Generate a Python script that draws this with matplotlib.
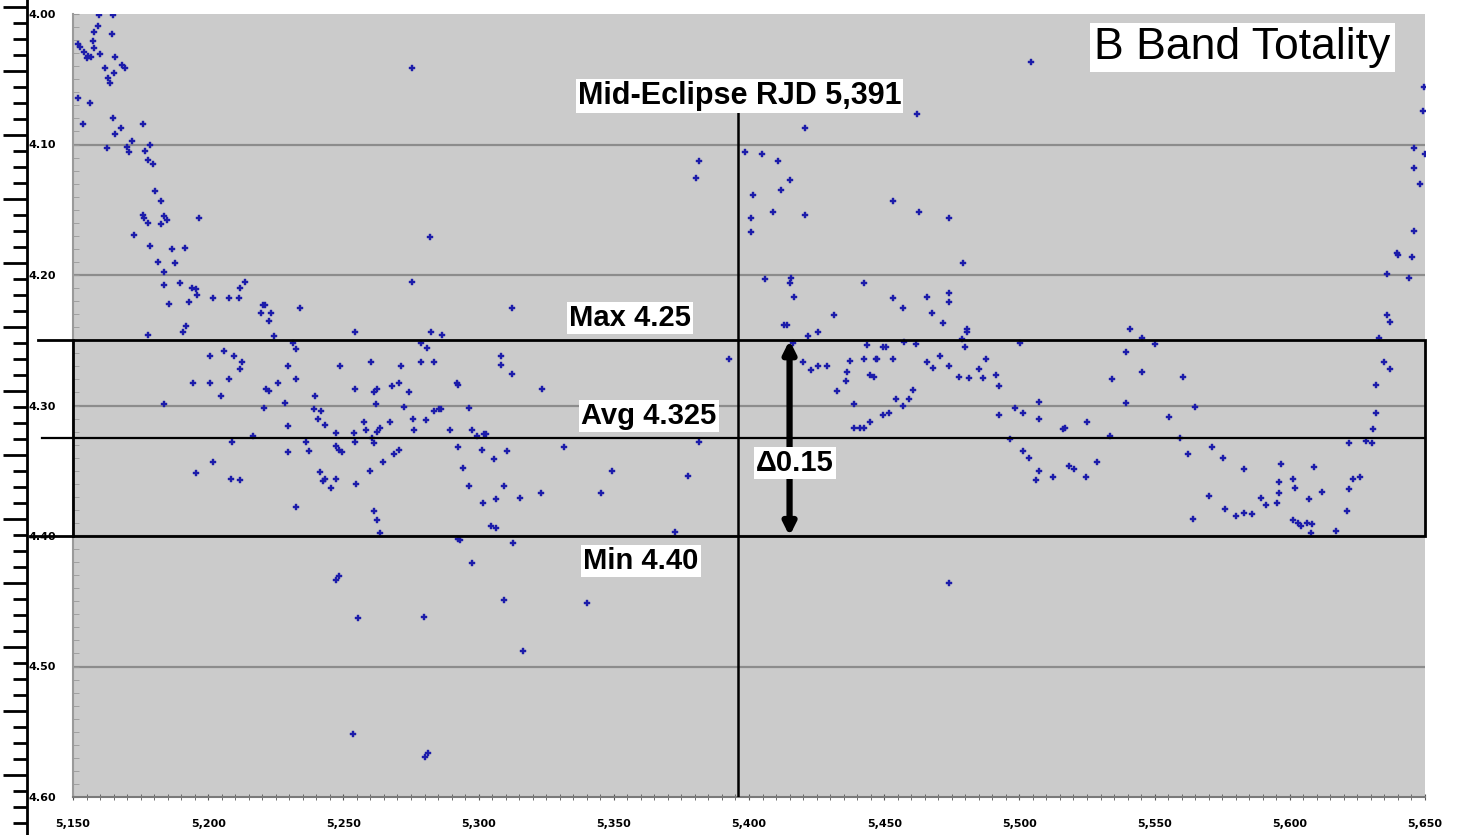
import numpy as np
import matplotlib
matplotlib.use("Agg")
import matplotlib.pyplot as plt
from matplotlib.patches import Rectangle
from matplotlib.ticker import MultipleLocator, FuncFormatter

# B band magnitudes (RJD - 2,450,000)
jd_early = [5159.6, 5164.8, 5159.2, 5157.8, 5164.4, 5151.8, 5152.6, 5157.4, 5157.8, 5154.1,
            5155.5, 5155.2, 5156.7, 5160.0, 5165.5, 5161.8, 5168.1, 5169.2, 5162.9, 5165.2,
            5163.7, 5151.8, 5156.3, 5153.7, 5164.8, 5167.7, 5165.5, 5175.9, 5171.8, 5162.6,
            5170.0, 5170.7, 5176.6, 5178.5, 5177.7, 5179.6, 5180.3, 5182.5, 5175.9, 5176.2,
            5177.7, 5183.6, 5184.7, 5182.5, 5196.6, 5172.5, 5178.5, 5186.6, 5191.4, 5181.4,
            5187.7, 5183.6, 5183.6, 5189.5, 5194.0, 5195.5, 5195.8, 5185.5, 5192.9, 5201.7,
            5207.7, 5211.4, 5211.7, 5213.6, 5220.2, 5221.0, 5219.5, 5223.2, 5222.4, 5233.9,
            5224.3, 5191.8, 5190.7, 5177.7, 5254.2, 5275.3, 5281.9, 5275.3, 5282.3, 5286.4,
            5231.3, 5232.4, 5200.6, 5205.8, 5209.5, 5212.5, 5211.7, 5229.5, 5194.4, 5200.6,
            5207.7, 5204.7, 5221.3, 5222.4, 5225.8, 5232.4, 5183.6, 5220.6, 5228.4, 5239.4,
            5239.1, 5241.7, 5240.6, 5243.1, 5247.2, 5248.7, 5254.2, 5260.1, 5261.3, 5262.4,
            5262.0, 5267.9, 5270.5, 5271.2, 5274.2, 5272.3, 5278.6, 5278.6, 5280.8, 5283.4,
            5291.9, 5283.4, 5285.3, 5275.7, 5276.0, 5280.5, 5289.3, 5229.5, 5216.5, 5257.6,
            5258.3, 5253.9, 5254.2, 5260.5, 5261.3, 5262.4, 5263.5, 5267.2, 5292.3, 5208.8,
            5236.1, 5237.2, 5229.5, 5247.2, 5248.3, 5249.4, 5201.7, 5195.5, 5208.4, 5211.7,
            5241.3, 5243.1, 5242.4, 5247.2, 5245.4, 5254.6, 5259.8, 5264.6, 5268.6, 5270.5,
            5232.4, 5261.3, 5262.4, 5263.5, 5292.3]
mag_early = [4.001, 4.001, 4.009, 4.014, 4.015, 4.023, 4.025, 4.021, 4.026, 4.029,
             4.032, 4.034, 4.033, 4.031, 4.033, 4.041, 4.039, 4.041, 4.049, 4.045,
             4.053, 4.064, 4.068, 4.084, 4.080, 4.087, 4.092, 4.084, 4.097, 4.103,
             4.102, 4.106, 4.105, 4.100, 4.112, 4.115, 4.136, 4.143, 4.154, 4.156,
             4.160, 4.155, 4.158, 4.161, 4.156, 4.169, 4.178, 4.180, 4.179, 4.190,
             4.191, 4.198, 4.208, 4.206, 4.210, 4.211, 4.215, 4.222, 4.221, 4.218,
             4.218, 4.218, 4.210, 4.205, 4.223, 4.223, 4.229, 4.229, 4.235, 4.225,
             4.247, 4.239, 4.244, 4.246, 4.244, 4.041, 4.171, 4.205, 4.244, 4.246,
             4.252, 4.257, 4.262, 4.258, 4.262, 4.267, 4.272, 4.270, 4.283, 4.283,
             4.280, 4.293, 4.287, 4.289, 4.283, 4.280, 4.299, 4.302, 4.298, 4.293,
             4.303, 4.304, 4.310, 4.315, 4.321, 4.270, 4.287, 4.267, 4.290, 4.287,
             4.299, 4.285, 4.283, 4.270, 4.290, 4.301, 4.267, 4.252, 4.256, 4.267,
             4.283, 4.304, 4.303, 4.310, 4.319, 4.311, 4.319, 4.316, 4.323, 4.313,
             4.319, 4.321, 4.328, 4.325, 4.329, 4.320, 4.317, 4.313, 4.332, 4.328,
             4.328, 4.335, 4.336, 4.331, 4.334, 4.336, 4.343, 4.352, 4.356, 4.357,
             4.351, 4.356, 4.358, 4.356, 4.363, 4.360, 4.350, 4.343, 4.337, 4.334,
             4.378, 4.381, 4.388, 4.398, 4.402]

jd_mid = [5312.3, 5308.2, 5308.2, 5312.3, 5292.3, 5323.3, 5392.5, 5296.4, 5286.0, 5297.5,
          5299.3, 5301.9, 5302.6, 5301.2, 5310.4, 5305.6, 5331.5, 5381.4, 5294.1, 5349.2,
          5377.3, 5296.4, 5309.3, 5301.5, 5306.3, 5315.2, 5323.0, 5345.1, 5304.5, 5306.3,
          5372.5, 5293.0, 5312.6, 5297.5, 5309.3, 5340.0, 5316.3, 5400.6, 5247.2, 5248.3,
          5255.3, 5253.5, 5280.1, 5281.2, 5279.7, 5381.4, 5380.3]
mag_mid = [4.225, 4.262, 4.269, 4.276, 4.284, 4.287, 4.264, 4.302, 4.303, 4.319,
           4.323, 4.322, 4.322, 4.334, 4.335, 4.341, 4.332, 4.328, 4.348, 4.350,
           4.354, 4.362, 4.362, 4.375, 4.372, 4.371, 4.367, 4.367, 4.392, 4.394,
           4.397, 4.403, 4.405, 4.421, 4.449, 4.451, 4.488, 4.167, 4.434, 4.431,
           4.463, 4.552, 4.569, 4.566, 4.462, 4.113, 4.126]

jd_late = [5462.3, 5420.6, 5398.7, 5404.7, 5410.6, 5415.0, 5412.0, 5401.3, 5408.7, 5420.6,
           5400.6, 5453.4, 5463.0, 5474.1, 5479.3, 5405.8, 5415.7, 5415.0, 5416.8, 5442.4,
           5453.4, 5457.1, 5466.0, 5467.5, 5473.8, 5474.1, 5471.9, 5431.6, 5412.8, 5413.9,
           5421.7, 5425.7, 5480.8, 5480.8, 5478.9, 5416.1, 5443.8, 5449.7, 5450.8, 5457.5,
           5461.6, 5479.7, 5500.4, 5419.8, 5422.8, 5425.7, 5428.7, 5437.5, 5442.4, 5446.8,
           5447.5, 5453.1, 5436.1, 5435.7, 5432.7, 5444.9, 5446.1, 5466.0, 5467.9, 5470.8,
           5473.8, 5477.8, 5481.5, 5484.9, 5486.7, 5487.8, 5491.5, 5492.6, 5460.8, 5459.0,
           5454.5, 5456.8, 5451.6, 5449.7, 5444.9, 5442.7, 5440.9, 5438.7, 5439.0, 5492.6,
           5498.5, 5501.5, 5507.4, 5507.4, 5516.3, 5517.0, 5525.1, 5534.4, 5533.6, 5496.7,
           5501.5, 5503.7, 5507.4, 5506.3, 5512.6, 5518.5, 5520.3, 5524.8, 5528.8, 5504.4,
           5473.8]
mag_late = [4.077, 4.087, 4.106, 4.107, 4.113, 4.127, 4.135, 4.139, 4.152, 4.154,
            4.156, 4.143, 4.152, 4.156, 4.191, 4.203, 4.202, 4.206, 4.217, 4.206,
            4.218, 4.225, 4.217, 4.229, 4.214, 4.221, 4.237, 4.231, 4.238, 4.238,
            4.247, 4.244, 4.241, 4.244, 4.249, 4.252, 4.254, 4.255, 4.255, 4.251,
            4.253, 4.255, 4.252, 4.267, 4.273, 4.270, 4.270, 4.266, 4.264, 4.264,
            4.264, 4.264, 4.274, 4.281, 4.289, 4.277, 4.278, 4.267, 4.271, 4.262,
            4.270, 4.278, 4.279, 4.272, 4.279, 4.264, 4.277, 4.285, 4.288, 4.295,
            4.295, 4.300, 4.306, 4.307, 4.313, 4.317, 4.317, 4.317, 4.299, 4.307,
            4.302, 4.306, 4.297, 4.310, 4.318, 4.317, 4.313, 4.280, 4.323, 4.326,
            4.335, 4.340, 4.350, 4.357, 4.355, 4.346, 4.349, 4.355, 4.343, 4.037,
            4.436]

jd_end = [5649.8, 5649.3, 5646.0, 5649.9, 5646.0, 5648.2, 5646.0, 5639.7, 5640.1, 5645.3,
          5636.0, 5644.1, 5636.0, 5637.1, 5633.1, 5634.9, 5637.1, 5632.0, 5632.0, 5630.9,
          5628.3, 5630.5, 5622.0, 5623.5, 5626.0, 5622.0, 5621.2, 5617.2, 5541.0, 5545.5,
          5550.3, 5539.6, 5545.5, 5560.6, 5539.6, 5565.1, 5555.5, 5559.5, 5562.5, 5571.3,
          5575.4, 5583.2, 5596.8, 5609.0, 5601.3, 5602.0, 5596.1, 5596.1, 5595.4, 5589.5,
          5591.3, 5612.0, 5607.2, 5570.2, 5576.1, 5580.2, 5583.2, 5586.1, 5564.3, 5601.3,
          5603.1, 5604.2, 5606.4, 5608.3, 5607.9]
mag_end = [4.056, 4.074, 4.103, 4.107, 4.118, 4.130, 4.166, 4.183, 4.185, 4.186,
           4.199, 4.202, 4.231, 4.236, 4.248, 4.267, 4.272, 4.284, 4.306, 4.318,
           4.327, 4.329, 4.329, 4.356, 4.355, 4.364, 4.381, 4.396, 4.241, 4.248,
           4.253, 4.259, 4.274, 4.278, 4.298, 4.301, 4.309, 4.325, 4.337, 4.332,
           4.340, 4.349, 4.345, 4.347, 4.356, 4.363, 4.359, 4.367, 4.375, 4.371,
           4.376, 4.366, 4.372, 4.369, 4.379, 4.385, 4.382, 4.383, 4.387, 4.388,
           4.390, 4.392, 4.390, 4.391, 4.398]

jd = np.array(jd_early + jd_mid + jd_late + jd_end)
mag = np.array(mag_early + mag_mid + mag_late + mag_end)

# Annotation values
mag_max = 4.25
mag_avg = 4.325
mag_min = 4.40
mid_eclipse = 5396
y_ticks = [4.0, 4.1, 4.2, 4.3, 4.4, 4.5, 4.6]

plt.rcParams['font.family'] = ['Liberation Sans', 'DejaVu Sans']

fig = plt.figure(figsize=(14.66, 8.35), dpi=100)
ax = fig.add_axes([73 / 1466, 1 - 797 / 835, 1352 / 1466, 783 / 835])
ax.set_facecolor('#cbcbcb')
ax.set_xlim(5150, 5650)
ax.set_ylim(4.60, 4.00)

# horizontal grid
for yv in y_ticks[1:-1]:
    ax.axhline(yv, color='#8c8c8c', lw=1.6, zorder=1)

for s in ['top', 'right']:
    ax.spines[s].set_visible(False)
ax.spines['left'].set_color('#9a9a9a')
ax.spines['bottom'].set_color('#7a7a7a')
ax.spines['left'].set_linewidth(1.5)
ax.spines['bottom'].set_linewidth(1.5)

ax.xaxis.set_major_locator(MultipleLocator(50))
ax.xaxis.set_minor_locator(MultipleLocator(5))
ax.yaxis.set_major_locator(MultipleLocator(0.1))
ax.yaxis.set_minor_locator(MultipleLocator(0.01))
ax.xaxis.set_major_formatter(FuncFormatter(lambda v, p: f"{v:,.0f}"))
ax.yaxis.set_major_formatter(FuncFormatter(lambda v, p: f"{v:.2f}"))
ax.tick_params(axis='x', which='both', direction='inout', length=4, color='#555555',
               labelsize=8, pad=14)
ax.tick_params(axis='y', which='both', direction='in', length=4, color='#999999',
               labelsize=8, pad=12)
for lab in ax.get_xticklabels() + ax.get_yticklabels():
    lab.set_fontweight('bold')
    lab.set_family('DejaVu Sans')

# data
ax.plot(jd, mag, linestyle='none', marker='P', markersize=5, color='#1c1caa',
        markeredgecolor='#1c1caa', markeredgewidth=0.3, zorder=3)

# box between max and min
ax.add_patch(Rectangle((5150, mag_max), 500, mag_min - mag_max, fill=False,
                       edgecolor='black', lw=2, zorder=4, clip_on=False))
ax.plot([-0.026, 0], [mag_max, mag_max], color='black', lw=2,
        transform=ax.get_yaxis_transform(), clip_on=False, zorder=4)
ax.plot([-0.023, 1], [mag_avg, mag_avg], color='black', lw=1.6,
        transform=ax.get_yaxis_transform(), clip_on=False, zorder=4)
ax.plot([-0.032, 0], [mag_min, mag_min], color='black', lw=2,
        transform=ax.get_yaxis_transform(), clip_on=False, zorder=4)

# mid eclipse line
ax.plot([mid_eclipse, mid_eclipse], [4.07, 4.60], color='black', lw=1.8, zorder=4)

# double arrow
ax.annotate('', xy=(5415, mag_max), xytext=(5415, mag_min),
            arrowprops=dict(arrowstyle='<|-|>', color='black', lw=4.5,
                            mutation_scale=18, shrinkA=0, shrinkB=0), zorder=5)

box = dict(facecolor='white', edgecolor='none', pad=1.5)
ax.text(5396.5, 4.063, 'Mid-Eclipse RJD 5,391', ha='center', va='center',
        fontsize=22, fontweight='bold', bbox=box, zorder=6)
ax.text(5582.5, 4.026, 'B Band Totality', ha='center', va='center',
        fontsize=32, bbox=dict(facecolor='white', edgecolor='none', pad=3), zorder=6)
ax.text(5356, 4.233, 'Max 4.25', ha='center', va='center',
        fontsize=21, fontweight='bold', bbox=box, zorder=6)
ax.text(5363, 4.308, 'Avg 4.325', ha='center', va='center',
        fontsize=21, fontweight='bold', bbox=box, zorder=6)
ax.text(5360, 4.419, 'Min 4.40', ha='center', va='center',
        fontsize=21, fontweight='bold', bbox=box, zorder=6)
ax.text(5417, 4.344, '\u03940.15', ha='center', va='center',
        fontsize=21, fontweight='bold', bbox=box, zorder=6)

# outer (cropped) axis on the far left
ax2 = fig.add_axes([27 / 1466, 0, 0.0005, 1])
ax2.set_ylim(835, 0)
ax2.set_xlim(0, 1)
ax2.patch.set_visible(False)
for s in ['top', 'right', 'bottom']:
    ax2.spines[s].set_visible(False)
ax2.spines['left'].set_linewidth(2)
ax2.set_xticks([])
ax2.set_yticks(np.arange(7, 835, 64))
ax2.set_yticks(np.arange(7, 835, 16), minor=True)
ax2.tick_params(axis='y', which='major', length=17, width=2, labelleft=False)
ax2.tick_params(axis='y', which='minor', length=10, width=2)

fig.savefig('out.png', dpi=100)
